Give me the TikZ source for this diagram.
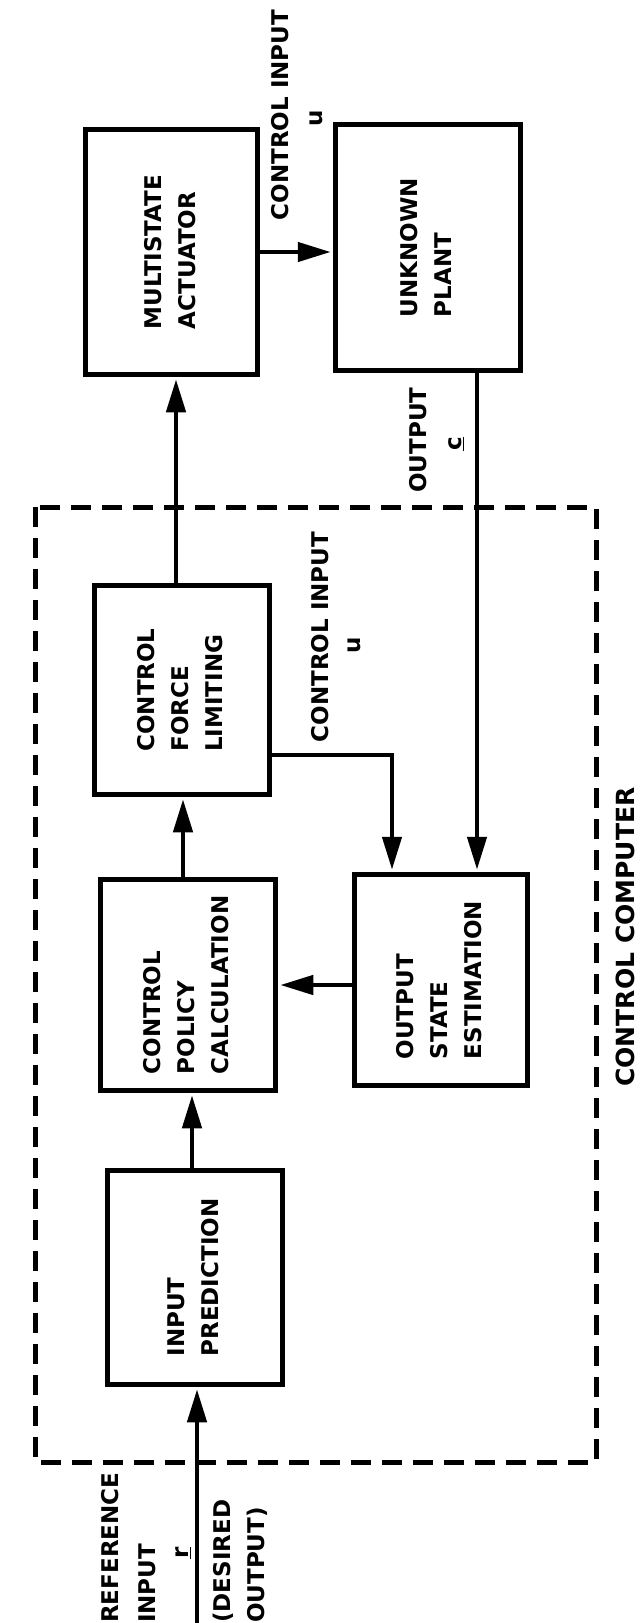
\documentclass[tikz,border=0pt]{standalone}
\usepackage{fontspec}
\usepackage{graphicx}
\setmainfont{DejaVu Sans}
\usetikzlibrary{arrows.meta}
\newcommand\lblfont{\bfseries\fontsize{23}{34}\selectfont}
\newcommand\rotl[1]{\rotatebox{90}{\begin{tabular}{@{}l@{}}#1\end{tabular}}}
\newcommand\rotc[1]{\rotatebox{90}{#1}}
\tikzset{
  blk/.style={draw, line width=5.5pt, inner sep=0pt, font=\lblfont},
  conn/.style={line width=4.5pt, -{Triangle[length=33pt,width=19pt]}, shorten >=2pt},
  lab/.style={inner sep=0pt, font=\lblfont},
  dashbox/.style={line width=5pt, dash pattern=on 20pt off 11pt}
}
\begin{document}
\begin{tikzpicture}[x=1pt,y=-1pt]
\useasboundingbox (0,0) rectangle (642,1623);
% boxes
\node[blk, minimum width=172pt, minimum height=245pt] (act) at (171.5,252) {\rotl{MULTISTATE\\ACTUATOR}};
\node[blk, minimum width=185pt, minimum height=246pt] (plant) at (428,247.5) {\rotl{UNKNOWN\\PLANT}};
\node[blk, minimum width=175pt, minimum height=209pt] (flim) at (182,690) {\rotl{CONTROL\\FORCE\\LIMITING}};
\node[blk, minimum width=175pt, minimum height=211pt] (pol) at (188,985) {\rotl{CONTROL\\POLICY\\CALCULATION}};
\node[blk, minimum width=173pt, minimum height=211pt] (ose) at (441,980) {\rotl{OUTPUT\\STATE\\ESTIMATION}};
\node[blk, minimum width=175pt, minimum height=214pt] (inp) at (195,1277.5) {\rotl{INPUT\\PREDICTION}};
% dashed control computer boundary
\draw[dashbox] (35,507) rectangle (596,1462);
% connectors
\coordinate (refin) at (197,1623);
\draw[conn] (refin) -- (refin |- inp.south);
\draw[conn] ([xshift=-3pt]inp.north) -- ([xshift=-3pt]inp.north |- pol.south);
\draw[conn] ([xshift=-5pt]pol.north) -- ([xshift=-5pt]pol.north |- flim.south);
\draw[conn] ([xshift=-6pt]flim.north) -- ([xshift=-6pt]flim.north |- act.south);
\draw[conn] (act.east) -- (act.east -| plant.west);
\draw[conn] ([xshift=49pt]plant.south) -- ([xshift=49pt]plant.south |- ose.north);
\draw[conn] ([yshift=-65pt]flim.east) -| ([xshift=-49pt]ose.north);
\draw[conn] ([yshift=-5pt]ose.west) -- ([yshift=-5pt]ose.west -| pol.east);
% labels
\node[lab] (ci1) at (280,115) {\rotc{CONTROL INPUT}};
\node[lab] (u1) at (316,118) {\rotc{u}};
\node[lab] (ci2) at (320,637) {\rotc{CONTROL INPUT}};
\node[lab] (u2) at (354,645) {\rotc{u}};
\node[lab] (outl) at (418,440) {\rotc{OUTPUT}};
\node[lab] (c1) at (456,444) {\rotc{\underline{c}}};
\node[lab, font=\bfseries\fontsize{25}{30}\selectfont] (ccl) at (625,937) {\rotc{CONTROL COMPUTER}};
\node[lab, anchor=south] (refl) at (110,1623) {\rotc{REFERENCE}};
\node[lab, anchor=south] (inl) at (147,1623) {\rotc{INPUT}};
\node[lab] (rl) at (183,1553) {\rotc{\underline{r}}};
\node[lab, anchor=south] (desl) at (223,1623) {\rotc{(DESIRED}};
\node[lab, anchor=south] (desl2) at (257,1623) {\rotc{OUTPUT)}};
\end{tikzpicture}
\end{document}
